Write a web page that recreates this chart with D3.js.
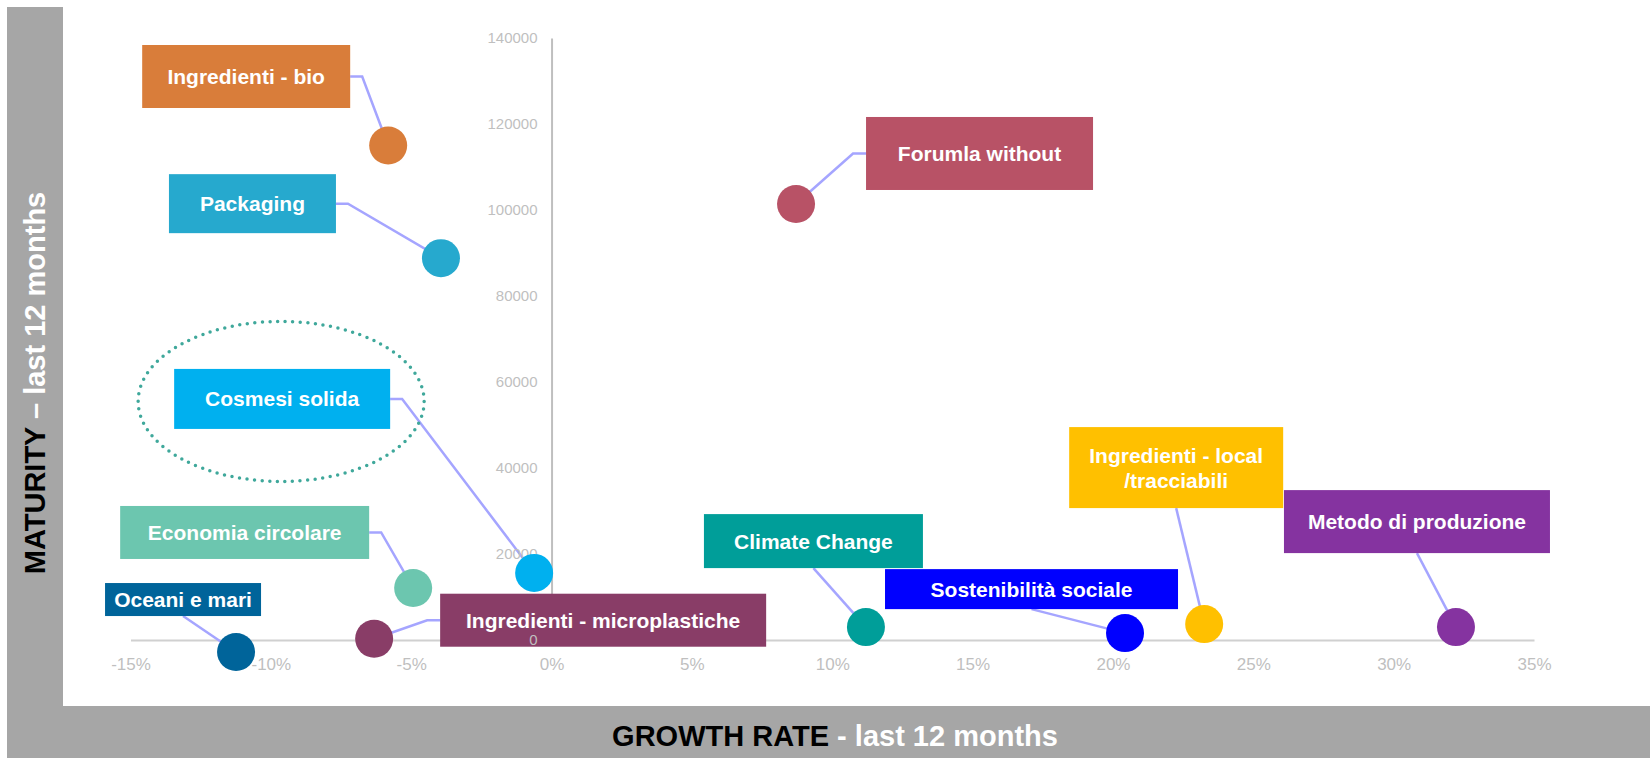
<!DOCTYPE html>
<html>
<head>
<meta charset="utf-8">
<script src="https://cdn.jsdelivr.net/npm/d3@7"></script>
<style>
  html, body { margin: 0; padding: 0; background: #fff; }
  svg { display: block; font-family: Arial, "Liberation Sans", sans-serif; }
</style>
</head>
<body>
<div id="chart"></div>
<script>
// topics on the matrix
const topics = [
  'Ingredienti - bio', 'Packaging', 'Forumla without', 'Cosmesi solida',
  'Economia circolare', 'Oceani e mari', 'Ingredienti - microplastiche',
  'Climate Change', 'Sostenibilità sociale', 'Ingredienti - local\n/tracciabili',
  'Metodo di produzione'
];
// growth rate, last 12 months (fraction)
const growth = [-0.0582, -0.0394, 0.0871, -0.0062, -0.0493, -0.1124, -0.0632, 0.1120, 0.2043, 0.2325, 0.3222];
// maturity, last 12 months
const maturity = [115000, 88800, 101400, 15600, 12100, -2800, 300, 3000, 1600, 3700, 3000];
const topicColors = ['#D97D3A', '#26A9CE', '#B85266', '#00B0EF', '#6CC6AF', '#00649A',
  '#893D67', '#009E99', '#0000FF', '#FFC000', '#8533A0'];

const xTicks = [-0.15, -0.10, -0.05, 0, 0.05, 0.10, 0.15, 0.20, 0.25, 0.30, 0.35];
const yTicks = [0, 20000, 40000, 60000, 80000, 100000, 120000, 140000];

// label boxes: offset of box centre from the point, box size, side the leader leaves from
const labelLayout = [
  { dx: -142, dy: -69, w: 208, h: 63, side: 'right' },
  { dx: -188.5, dy: -54.5, w: 167, h: 59, side: 'right' },
  { dx: 183.5, dy: -50.5, w: 227, h: 73, side: 'left' },
  { dx: -252, dy: -174, w: 216, h: 60, side: 'right' },
  { dx: -168.5, dy: -55.5, w: 249, h: 53, side: 'right' },
  { dx: -53, dy: -52.5, w: 156, h: 33, side: 'bottom' },
  { dx: 229, dy: -18.5, w: 326, h: 53, side: 'left' },
  { dx: -52.5, dy: -86, w: 219, h: 54, side: 'bottom' },
  { dx: -93.5, dy: -44, w: 293, h: 40, side: 'bottom' },
  { dx: -28, dy: -156.5, w: 214, h: 81, side: 'bottom' },
  { dx: -39, dy: -105.5, w: 266, h: 63, side: 'bottom' }
];

const width = 1650, height = 758;
const frameGray = '#A6A6A6';
const leaderColor = '#A5A5FF';
const tickGray = '#BFBFBF';

const svg = d3.select('#chart').append('svg')
  .attr('width', width)
  .attr('height', height);

// grey frame: left strip and bottom band
svg.append('rect').attr('x', 7).attr('y', 7).attr('width', 56).attr('height', height - 7).attr('fill', frameGray);
svg.append('rect').attr('x', 7).attr('y', 706).attr('width', width - 7).attr('height', height - 706).attr('fill', frameGray);

const x = d3.scaleLinear().domain([-0.15, 0.35]).range([130.5, 1534]);
const y = d3.scaleLinear().domain([0, 140000]).range([640, 38]);

const data = topics.map((t, i) => ({
  name: t, gx: growth[i], my: maturity[i], color: topicColors[i], lay: labelLayout[i]
}));
data.forEach(d => {
  d.px = x(d.gx);
  d.py = y(d.my);
  d.bx = d.px + d.lay.dx - d.lay.w / 2;
  d.by = d.py + d.lay.dy - d.lay.h / 2;
});

// axes (lines sit under the label boxes)
const xAxis = svg.append('g')
  .attr('transform', `translate(0,${y(0)})`)
  .call(d3.axisBottom(x).tickValues(xTicks).tickSize(0).tickPadding(17.5)
    .tickFormat(d => Math.round(d * 100) + '%'));
xAxis.select('.domain').attr('stroke', '#D0D0D0').attr('stroke-width', 2);
xAxis.selectAll('text').attr('font-size', 17).attr('fill', tickGray).attr('font-family', 'Arial, "Liberation Sans", sans-serif');

const yAxis = svg.append('g')
  .attr('transform', `translate(${x(0)},0)`)
  .call(d3.axisLeft(y).tickValues(yTicks).tickSize(0).tickPadding(14).tickFormat(d3.format('d')));
yAxis.select('.domain').attr('stroke', tickGray).attr('stroke-width', 2);
yAxis.selectAll('text').attr('font-size', 15).attr('fill', tickGray).attr('font-family', 'Arial, "Liberation Sans", sans-serif');

// leader lines
function leaderPath(d) {
  const l = d.lay;
  const cx = d.bx + l.w / 2, cy = d.by + l.h / 2;
  if (l.side === 'right') return `M${d.bx + l.w},${cy}H${d.bx + l.w + 12}L${d.px},${d.py}`;
  if (l.side === 'left') return `M${d.bx},${cy}H${d.bx - 13}L${d.px},${d.py}`;
  return `M${cx},${d.by + l.h}L${d.px},${d.py}`;
}
svg.append('g').selectAll('path')
  .data(data)
  .enter()
  .append('path')
  .attr('d', leaderPath)
  .attr('fill', 'none')
  .attr('stroke', leaderColor)
  .attr('stroke-width', 2.5);

// dotted ring around "Cosmesi solida"
const cosmesi = data[3];
svg.append('ellipse')
  .attr('cx', cosmesi.bx + cosmesi.lay.w / 2 - 1)
  .attr('cy', cosmesi.by + cosmesi.lay.h / 2 + 2.5)
  .attr('rx', 143)
  .attr('ry', 80)
  .attr('fill', 'none')
  .attr('stroke', '#3FA89B')
  .attr('stroke-width', 3.5)
  .attr('stroke-linecap', 'round')
  .attr('stroke-dasharray', '0 7.6');

// label boxes
const labels = svg.append('g').selectAll('g')
  .data(data)
  .enter()
  .append('g')
  .attr('transform', d => `translate(${d.bx},${d.by})`);

labels.append('rect')
  .attr('width', d => d.lay.w)
  .attr('height', d => d.lay.h)
  .attr('fill', d => d.color);

labels.each(function(d) {
  const lines = d.name.split('\n');
  const lineH = 25;
  const t = d3.select(this).append('text')
    .attr('text-anchor', 'middle')
    .attr('font-size', 21)
    .attr('font-weight', 'bold')
    .attr('fill', '#fff');
  lines.forEach((ln, k) => {
    t.append('tspan')
      .attr('x', d.lay.w / 2)
      .attr('y', d.lay.h / 2 + 7.5 + (k - (lines.length - 1) / 2) * lineH)
      .text(ln);
  });
});

// y tick labels are drawn over the boxes, the axis line is not
const yLabels = svg.append('g')
  .attr('transform', `translate(${x(0)},0)`)
  .attr('text-anchor', 'end');
yAxis.selectAll('.tick').each(function() { yLabels.node().appendChild(this); });

// points
svg.append('g').selectAll('circle')
  .data(data)
  .enter()
  .append('circle')
  .attr('cx', d => d.px)
  .attr('cy', d => d.py)
  .attr('r', 19)
  .attr('fill', d => d.color);

// axis titles
const yTitle = svg.append('text')
  .attr('transform', `translate(45,383) rotate(-90)`)
  .attr('text-anchor', 'middle')
  .attr('font-size', 29)
  .attr('font-weight', 'bold');
yTitle.append('tspan').attr('fill', '#000').text('MATURITY');
yTitle.append('tspan').attr('fill', '#fff').text(' – last 12 months');

const xTitle = svg.append('text')
  .attr('x', 835)
  .attr('y', 746)
  .attr('text-anchor', 'middle')
  .attr('font-size', 29)
  .attr('font-weight', 'bold');
xTitle.append('tspan').attr('fill', '#000').text('GROWTH RATE');
xTitle.append('tspan').attr('fill', '#fff').text(' - last 12 months');
</script>
</body>
</html>
